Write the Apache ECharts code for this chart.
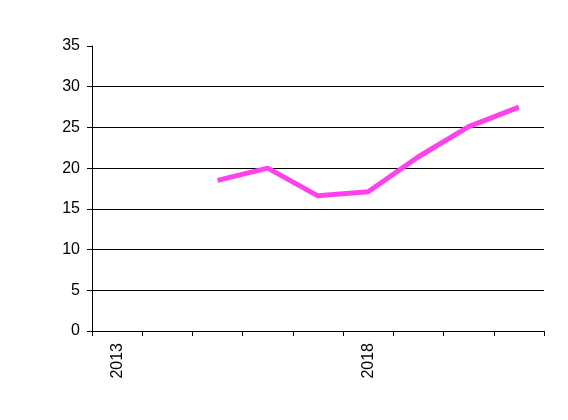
<!DOCTYPE html>
<html>
<head>
<meta charset="utf-8">
<script src="https://cdn.jsdelivr.net/npm/echarts@6/dist/echarts.min.js"></script>
<style>
  html, body { margin: 0; padding: 0; background: #fff; }
  #chart { width: 568px; height: 420px; }
</style>
</head>
<body>
<div id="chart"></div>
<script>
var years = ["2013", "2014", "2015", "2016", "2017", "2018", "2019", "2020", "2021"];
var values = [null, null, 18.5, 20, 16.6, 17.1, 21.4, 25.1, 27.5];
var yMin = 0, yMax = 35, yStep = 5;

var chart = echarts.init(document.getElementById("chart"));

var option = {
    animation: false,
    backgroundColor: "#fff",
    grid: { left: 92, right: 24, top: 46, bottom: 89 },
    xAxis: {
        type: "category",
        data: years,
        boundaryGap: true,
        axisLine: { lineStyle: { color: "#000", width: 1 } },
        axisTick: { show: true, interval: 0, length: 5, lineStyle: { color: "#000" } },
        axisLabel: {
            interval: 4,
            rotate: 90,
            margin: 12,
            color: "#000",
            fontFamily: "Liberation Sans",
            fontSize: 16
        },
        splitLine: { show: false }
    },
    yAxis: {
        type: "value",
        min: yMin,
        max: yMax,
        interval: yStep,
        axisLine: { show: true, lineStyle: { color: "#000", width: 1 } },
        axisTick: { show: true, length: 5, lineStyle: { color: "#000" } },
        axisLabel: {
            margin: 12,
            color: "#000",
            fontFamily: "Liberation Sans",
            fontSize: 16
        },
        splitLine: {
            show: true,
            showMinLine: false,
            showMaxLine: false,
            lineStyle: { color: "#000", width: 1 }
        }
    },
    series: [{
        type: "line",
        data: values,
        symbol: "none",
        connectNulls: false,
        lineStyle: { color: "#ff40ef", width: 5 }
    }]
};

chart.setOption(option);
</script>
</body>
</html>
